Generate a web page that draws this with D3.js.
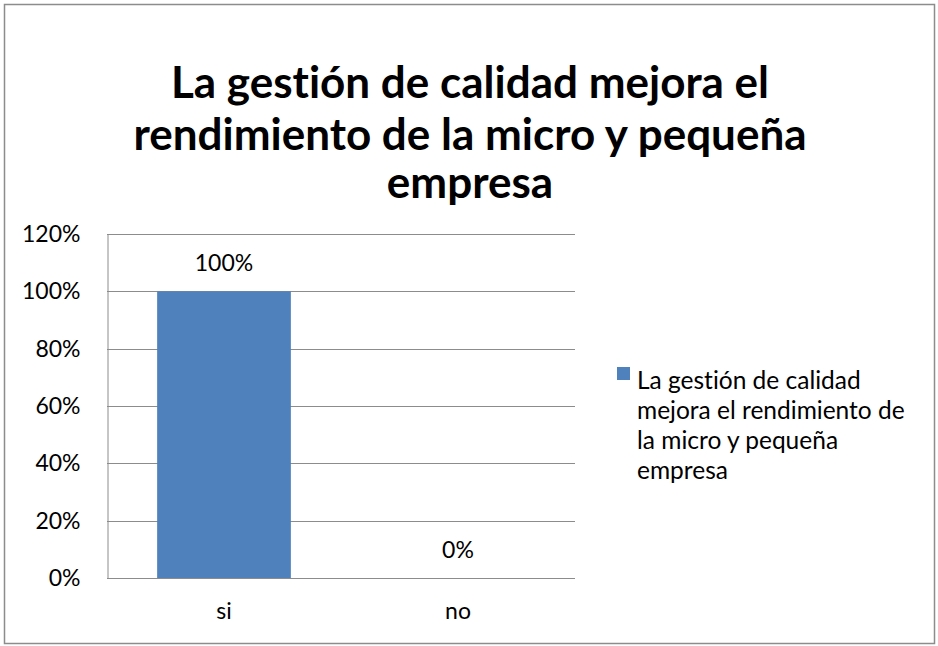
<!DOCTYPE html>
<html>
<head>
<meta charset="utf-8">
<script src="https://cdn.jsdelivr.net/npm/d3@7"></script>
<style>
  body { margin: 0; background: #fff; }
  text { font-family: Lato, "Open Sans", sans-serif; fill: #000; font-variant-ligatures: none; }
</style>
</head>
<body>
<svg id="chart" width="938" height="646"></svg>
<script>
// chart data
const categories = ["si", "no"];
const values = [1.0, 0.0];
const yTicks = [0, 0.2, 0.4, 0.6, 0.8, 1.0, 1.2];
const titleLines = ["La gestión de calidad mejora el", "rendimiento de la micro y pequeña", "empresa"];
const legendLines = ["La gestión de calidad", "mejora el rendimiento de", "la micro y pequeña", "empresa"];

const svg = d3.select("#chart");
const plot = { left: 107, right: 575, top: 234, bottom: 578 };
const labelFont = "Lato, 'Open Sans', sans-serif";

// outer frame
svg.append("rect")
  .attr("x", 4.5).attr("y", 4.5)
  .attr("width", 930).attr("height", 639)
  .attr("fill", "#fff")
  .attr("stroke", "#8c8c8c")
  .attr("stroke-width", 1.5);

// title
const titleY = [98, 150, 198];
svg.append("g").selectAll("text")
  .data(titleLines)
  .enter().append("text")
  .attr("x", 470)
  .attr("y", (d, i) => titleY[i])
  .attr("text-anchor", "middle")
  .attr("font-size", "44px")
  .attr("font-weight", "bold")
  .text(d => d);

const x = d3.scaleBand().domain(categories).range([plot.left, plot.right]).paddingInner(0).paddingOuter(0);
const y = d3.scaleLinear().domain([0, 1.2]).range([plot.bottom, plot.top]);

// gridlines
svg.append("g").selectAll("line")
  .data(yTicks)
  .enter().append("line")
  .attr("x1", plot.left).attr("x2", plot.right)
  .attr("y1", d => Math.round(y(d)) + 0.5).attr("y2", d => Math.round(y(d)) + 0.5)
  .attr("stroke", "#8c8c8c")
  .attr("stroke-width", 1);

// y axis
const yAxis = svg.append("g")
  .attr("transform", `translate(${plot.left + 0.5},0)`)
  .call(d3.axisLeft(y).tickValues(yTicks).tickFormat(d3.format(".0%")).tickSize(0).tickPadding(27));
yAxis.select(".domain").attr("stroke", "#8c8c8c");
yAxis.selectAll("text").attr("font-size", "23px").attr("fill", "#000")
  .style("font-family", labelFont);

// x axis labels
const xAxis = svg.append("g")
  .attr("transform", `translate(0,${plot.bottom})`)
  .call(d3.axisBottom(x).tickSize(0).tickPadding(25));
xAxis.select(".domain").remove();
xAxis.selectAll("text").attr("font-size", "23px").attr("fill", "#000")
  .style("font-family", labelFont);

// bars (gap width 75%)
const barW = x.bandwidth() / 1.75;
svg.append("g").selectAll("rect")
  .data(values)
  .enter().append("rect")
  .attr("x", (d, i) => x(categories[i]) + (x.bandwidth() - barW) / 2)
  .attr("y", d => y(d))
  .attr("width", barW)
  .attr("height", d => plot.bottom - y(d))
  .attr("fill", "#4f81bd");

// data labels
svg.append("g").selectAll("text")
  .data(values)
  .enter().append("text")
  .attr("x", (d, i) => x(categories[i]) + x.bandwidth() / 2)
  .attr("y", d => y(d) - 20)
  .attr("text-anchor", "middle")
  .attr("font-size", "23px")
  .text(d => d3.format(".0%")(d));

// legend
svg.append("rect")
  .attr("x", 617).attr("y", 367)
  .attr("width", 13).attr("height", 13)
  .attr("fill", "#4f81bd");
svg.append("g").selectAll("text")
  .data(legendLines)
  .enter().append("text")
  .attr("x", 637)
  .attr("y", (d, i) => 389 + i * 30)
  .attr("font-size", "24.5px")
  .text(d => d);
</script>
</body>
</html>
